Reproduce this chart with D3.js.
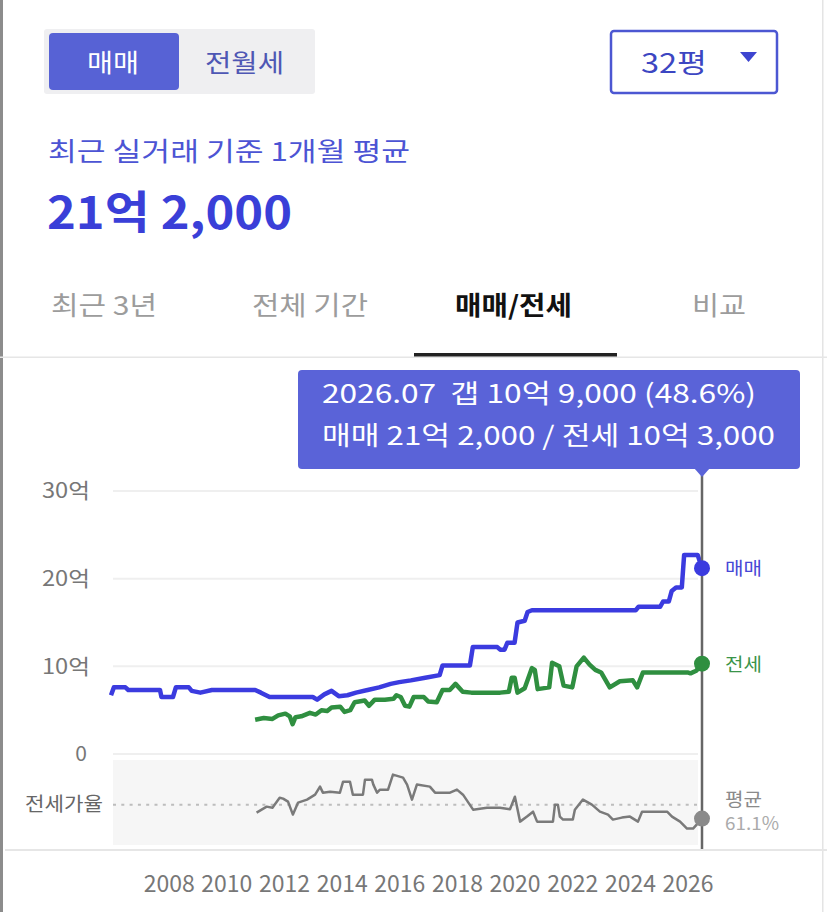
<!DOCTYPE html>
<html>
<head>
<meta charset="utf-8">
<script src="https://cdn.jsdelivr.net/npm/d3@7"></script>
<style>
  body { margin: 0; background: #fff; }
  svg text { font-family: "Noto Sans CJK KR", "Noto Sans", sans-serif; white-space: pre; }
</style>
</head>
<body>
<div id="plotdiv"></div>
<script>
// Size of the page
var outerWidth = 827;
var outerHeight = 912;

// Price series (억), [decimal year, value]
var maemae = [
  [2006.0, 6.7], [2006.1, 7.6], [2006.5, 7.6], [2006.6, 7.3], [2007.7, 7.3], [2007.75, 6.5],
  [2008.15, 6.5], [2008.25, 7.6], [2008.7, 7.6], [2008.8, 7.2], [2009.1, 7.0], [2009.5, 7.3],
  [2011.0, 7.3], [2011.2, 7.0], [2011.5, 6.5], [2013.0, 6.5], [2013.15, 6.2], [2013.4, 6.8],
  [2013.65, 7.2], [2013.9, 6.6], [2014.2, 6.7], [2014.5, 7.0], [2014.9, 7.3], [2015.3, 7.6],
  [2015.7, 8.0], [2016.0, 8.2], [2016.4, 8.4], [2016.9, 8.7], [2017.4, 9.0], [2017.5, 10.1],
  [2018.45, 10.1], [2018.55, 12.2], [2019.4, 12.2], [2019.5, 11.9], [2019.65, 11.9], [2019.75, 12.7],
  [2020.0, 12.7], [2020.1, 15.0], [2020.35, 15.2], [2020.45, 16.2], [2020.6, 16.4], [2024.2, 16.4],
  [2024.3, 16.8], [2025.05, 16.8], [2025.15, 17.4], [2025.35, 17.4], [2025.45, 18.6], [2025.6, 19.0],
  [2025.8, 19.0], [2025.88, 22.7], [2026.35, 22.7], [2026.5, 21.2]
];
var jeonse = [
  [2011.0, 3.9], [2011.3, 4.1], [2011.6, 4.0], [2011.8, 4.4], [2012.05, 4.6], [2012.2, 4.3],
  [2012.3, 3.4], [2012.4, 4.2], [2012.6, 4.3], [2012.9, 4.7], [2013.1, 4.5], [2013.3, 5.0],
  [2013.5, 4.9], [2013.65, 5.3], [2013.95, 5.4], [2014.1, 4.8], [2014.3, 5.0], [2014.45, 5.9],
  [2014.8, 6.1], [2014.95, 5.5], [2015.15, 6.2], [2015.5, 6.2], [2015.8, 6.3], [2015.9, 6.7],
  [2016.05, 6.5], [2016.2, 5.5], [2016.35, 5.4], [2016.5, 6.5], [2016.85, 6.5], [2017.0, 6.0],
  [2017.3, 5.9], [2017.5, 7.3], [2017.75, 7.3], [2017.95, 8.0], [2018.2, 7.1], [2018.5, 7.0],
  [2019.5, 7.0], [2019.8, 7.1], [2019.9, 8.7], [2020.0, 8.7], [2020.1, 7.0], [2020.35, 7.5],
  [2020.6, 9.8], [2020.7, 9.6], [2020.8, 7.4], [2021.2, 7.6], [2021.3, 10.4], [2021.55, 10.0],
  [2021.7, 7.8], [2022.0, 7.6], [2022.15, 10.0], [2022.4, 11.0], [2022.6, 10.2], [2022.8, 9.6],
  [2023.0, 9.3], [2023.3, 7.6], [2023.65, 8.3], [2024.1, 8.4], [2024.25, 7.6], [2024.45, 9.3],
  [2026.0, 9.3], [2026.1, 9.2], [2026.3, 9.5], [2026.5, 10.3]
];
// 전세가율 (%)
var ratio = [
  [2011.05, 54.0], [2011.4, 59.3], [2011.6, 58.4], [2011.85, 67.3], [2011.97, 66.5], [2012.14, 63.8],
  [2012.31, 52.2], [2012.49, 62.9], [2012.8, 65.6], [2013.08, 70.0], [2013.25, 77.2], [2013.35, 71.8],
  [2013.6, 72.7], [2013.94, 71.8], [2014.05, 81.6], [2014.29, 81.6], [2014.39, 70.0], [2014.74, 70.0],
  [2014.81, 83.4], [2015.05, 83.4], [2015.1, 79.0], [2015.23, 71.8], [2015.33, 74.5], [2015.61, 74.5],
  [2015.78, 87.9], [2016.13, 85.2], [2016.27, 79.0], [2016.44, 65.6], [2016.61, 79.0], [2017.06, 77.2],
  [2017.24, 71.8], [2017.76, 71.8], [2018.0, 74.5], [2018.21, 70.0], [2018.56, 56.6], [2019.04, 58.4],
  [2019.49, 58.4], [2019.84, 57.0], [2020.01, 68.2], [2020.19, 45.9], [2020.43, 50.4], [2020.64, 54.8],
  [2020.78, 45.9], [2021.33, 45.9], [2021.4, 61.1], [2021.5, 61.1], [2021.57, 50.4], [2021.68, 47.7],
  [2022.02, 47.7], [2022.09, 56.6], [2022.37, 65.6], [2022.68, 61.1], [2022.96, 54.8], [2023.24, 52.2],
  [2023.41, 47.7], [2023.72, 49.5], [2024.0, 50.4], [2024.28, 45.9], [2024.42, 54.8], [2025.29, 54.8],
  [2025.46, 50.4], [2025.74, 45.9], [2025.98, 39.7], [2026.19, 39.7], [2026.5, 48.6]
];
var ratioAvg = 61.1;

// Ticks
var yearTicks = [2008, 2010, 2012, 2014, 2016, 2018, 2020, 2022, 2024, 2026];
var priceTicks = [0, 10, 20, 30];
var tabs = ["최근 3년", "전체 기간", "매매/전세", "비교"];
var activeTab = 2;

// Selected point
var selYear = 2026.5;
var tipLines = ["2026.07  갭 10억 9,000 (48.6%)", "매매 21억 2,000 / 전세 10억 3,000"];

// Colours
var cBlue = "#3b3bdf";
var cGreen = "#2f8f40";
var cGray = "#7a7a7a";
var cTip = "#5a63d8";

// The screenshot is a bit wider than the font, so text gets stretched to its measured width
function stretch(sel, w) {
  sel.attr("textLength", w).attr("lengthAdjust", "spacingAndGlyphs");
  return sel;
}

var vis = d3.select("#plotdiv").append("svg")
  .attr("width", outerWidth)
  .attr("height", outerHeight);

vis.append("rect").attr("width", outerWidth).attr("height", outerHeight).attr("fill", "#fff");

// Page borders
vis.append("rect").attr("x", 0).attr("y", 0).attr("width", 3).attr("height", outerHeight).attr("fill", "#8c8c8c");
vis.append("rect").attr("x", 822).attr("y", 0).attr("width", 1.5).attr("height", outerHeight).attr("fill", "#e4e4e4");

// ---- Header ----
var head = vis.append("g");
head.append("rect").attr("x", 44).attr("y", 29).attr("width", 271).attr("height", 65)
  .attr("rx", 3).attr("fill", "#efeff1");
head.append("rect").attr("x", 49).attr("y", 33).attr("width", 130).attr("height", 57)
  .attr("rx", 4).attr("fill", "#5762d5");
stretch(head.append("text").attr("x", 87).attr("y", 72)
  .attr("font-size", 25).attr("fill", "#fff").text("매매"), 52);
stretch(head.append("text").attr("x", 205).attr("y", 72)
  .attr("font-size", 25).attr("fill", "#4e57b4").text("전월세"), 79);

head.append("rect").attr("x", 611).attr("y", 31).attr("width", 166).attr("height", 62)
  .attr("rx", 3).attr("fill", "#fff").attr("stroke", "#4c57d2").attr("stroke-width", 2.5);
stretch(head.append("text").attr("x", 641).attr("y", 73)
  .attr("font-size", 27).attr("fill", "#3c46c2").text("32평"), 66);
head.append("path").attr("d", "M740,52L757,52L748.5,62Z").attr("fill", "#3d45d0");

stretch(head.append("text").attr("x", 48).attr("y", 161)
  .attr("font-size", 26).attr("fill", "#4c54d4").text("최근 실거래 기준 1개월 평균"), 362);
stretch(head.append("text").attr("x", 47).attr("y", 229)
  .attr("font-size", 45).attr("font-weight", "bold").attr("fill", "#3a3fd8").text("21억 2,000"), 245);

// Tabs
var tabX = [51, 252, 455, 692];
var tabW = [106, 116, 117, 54];
head.selectAll(".tab").data(tabs).enter().append("text")
  .attr("class", "tab")
  .attr("x", function (d, i) { return tabX[i]; })
  .attr("y", 315)
  .attr("font-size", 26)
  .attr("textLength", function (d, i) { return tabW[i]; })
  .attr("lengthAdjust", "spacingAndGlyphs")
  .attr("font-weight", function (d, i) { return i === activeTab ? "bold" : "normal"; })
  .attr("fill", function (d, i) { return i === activeTab ? "#111" : "#9c9c9c"; })
  .text(function (d) { return d; });
vis.append("rect").attr("x", 0).attr("y", 356.5).attr("width", outerWidth).attr("height", 1.5).attr("fill", "#e6e6e6");
vis.append("rect").attr("x", 414).attr("y", 353).attr("width", 203).attr("height", 3.5).attr("fill", "#222");

// ---- Chart ----
var x = d3.scaleLinear().domain([2006, 2026.5]).range([111, 702]);
var y = d3.scaleLinear().domain([0, 30]).range([754, 491]);
var yR = d3.scaleLinear().domain([25, 101]).range([845, 760]);
var plotLeft = 113, plotRight = 698;

var g = vis.append("g");

// Ratio panel background
g.append("rect").attr("x", plotLeft).attr("y", yR.range()[1]).attr("width", plotRight - plotLeft)
  .attr("height", yR.range()[0] - yR.range()[1]).attr("fill", "#f6f6f6");

// Gridlines
g.selectAll(".grid").data(priceTicks).enter().append("line")
  .attr("class", "grid")
  .attr("x1", plotLeft).attr("x2", plotRight)
  .attr("y1", function (d) { return y(d); }).attr("y2", function (d) { return y(d); })
  .attr("stroke", "#efefef").attr("stroke-width", 2);

// Y axis
var axisY = d3.axisLeft(y).tickValues(priceTicks).tickSize(0).tickPadding(0)
  .tickFormat(function (d) { return d === 0 ? "0" : d + "억"; });
var gAxisY = g.append("g").attr("transform", "translate(90,0)").call(axisY);
gAxisY.select(".domain").remove();
gAxisY.selectAll("text").attr("font-size", 21).attr("fill", "#777")
  .attr("font-family", "'Noto Sans CJK KR', sans-serif")
  .attr("dx", function (d) { return d === 0 ? -3 : 0; })
  .attr("textLength", function (d) { return d === 0 ? null : 48; })
  .attr("lengthAdjust", "spacingAndGlyphs");

// X axis
var axisX = d3.axisBottom(x).tickValues(yearTicks).tickSize(0).tickPadding(0)
  .tickFormat(d3.format("d"));
var gAxisX = g.append("g").attr("transform", "translate(0,876)").call(axisX);
gAxisX.select(".domain").remove();
gAxisX.selectAll("text").attr("font-size", 23).attr("fill", "#777")
  .attr("font-family", "'Noto Sans CJK KR', sans-serif")
  .attr("textLength", 51).attr("lengthAdjust", "spacingAndGlyphs");

// Bottom separator
vis.append("rect").attr("x", 5).attr("y", 849).attr("width", outerWidth - 5).attr("height", 2).attr("fill", "#e6e6e6");

// Ratio average line + label
g.append("line").attr("x1", plotLeft).attr("x2", plotRight)
  .attr("y1", yR(ratioAvg)).attr("y2", yR(ratioAvg))
  .attr("stroke", "#bdbdbd").attr("stroke-width", 2).attr("stroke-dasharray", "3,5.3");
stretch(g.append("text").attr("x", 25).attr("y", yR(ratioAvg) + 6)
  .attr("font-size", 19).attr("fill", "#666").text("전세가율"), 78);

// Lines
var line = d3.line().x(function (d) { return x(d[0]); }).y(function (d) { return y(d[1]); });
var lineR = d3.line().x(function (d) { return x(d[0]); }).y(function (d) { return yR(d[1]); });

g.append("path").datum(ratio).attr("d", lineR).attr("fill", "none")
  .attr("stroke", cGray).attr("stroke-width", 2.5).attr("stroke-linejoin", "round");
g.append("path").datum(jeonse).attr("d", line).attr("fill", "none")
  .attr("stroke", cGreen).attr("stroke-width", 4.5).attr("stroke-linejoin", "round");
g.append("path").datum(maemae).attr("d", line).attr("fill", "none")
  .attr("stroke", cBlue).attr("stroke-width", 4.5).attr("stroke-linejoin", "round");

// Selection line
g.append("line").attr("x1", x(selYear)).attr("x2", x(selYear)).attr("y1", 469).attr("y2", 850)
  .attr("stroke", "#666").attr("stroke-width", 2.5);

// End dots and labels
var lastM = maemae[maemae.length - 1], lastJ = jeonse[jeonse.length - 1], lastR = ratio[ratio.length - 1];
g.append("circle").attr("cx", x(lastM[0])).attr("cy", y(lastM[1])).attr("r", 8).attr("fill", cBlue);
g.append("circle").attr("cx", x(lastJ[0])).attr("cy", y(lastJ[1])).attr("r", 8).attr("fill", cGreen);
g.append("circle").attr("cx", x(lastR[0])).attr("cy", yR(lastR[1])).attr("r", 8).attr("fill", "#8a8a8a");

stretch(g.append("text").attr("x", 725).attr("y", y(lastM[1]) + 7).attr("font-size", 18).attr("fill", "#4848d6").text("매매"), 37);
stretch(g.append("text").attr("x", 725).attr("y", y(lastJ[1]) + 7).attr("font-size", 18).attr("fill", "#3a9449").text("전세"), 37);
stretch(g.append("text").attr("x", 725).attr("y", 806).attr("font-size", 18).attr("fill", "#8a8a8a").text("평균"), 37);
stretch(g.append("text").attr("x", 725).attr("y", 830).attr("font-size", 18).attr("fill", "#ababab").text(ratioAvg + "%"), 54);

// Tooltip
var tipW = [434, 453];
var tip = vis.append("g");
tip.append("rect").attr("x", 298).attr("y", 370).attr("width", 502).attr("height", 99)
  .attr("rx", 4).attr("fill", cTip);
tip.append("path")
  .attr("d", "M" + (x(selYear) - 8) + ",468L" + (x(selYear) + 8) + ",468L" + x(selYear) + ",477Z")
  .attr("fill", cTip);
tip.selectAll(".tipline").data(tipLines).enter().append("text")
  .attr("class", "tipline")
  .attr("x", 322)
  .attr("y", function (d, i) { return 403 + i * 42; })
  .attr("font-size", 26)
  .attr("textLength", function (d, i) { return tipW[i]; })
  .attr("lengthAdjust", "spacingAndGlyphs")
  .attr("fill", "#fff")
  .text(function (d) { return d; });
</script>
</body>
</html>
